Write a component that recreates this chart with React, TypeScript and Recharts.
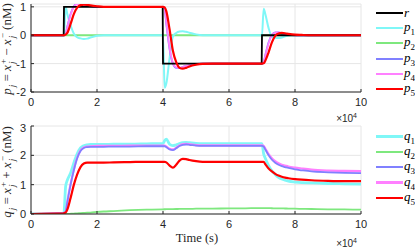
import React from 'react';
import { LineChart, Line, XAxis, YAxis, CartesianGrid } from 'recharts';

// time in units of 1e4 s
const times = [0, 0.99, 1.0, 1.05, 1.1, 1.2, 1.3, 1.4, 1.5, 1.6, 1.7, 1.8, 2.0, 2.2, 2.5, 3.0, 3.5, 3.99, 4.0, 4.05, 4.1, 4.2, 4.3, 4.4, 4.5, 4.6, 4.7, 4.8, 5.0, 5.2, 5.5, 6.0, 6.5, 6.99, 7.0, 7.05, 7.1, 7.2, 7.3, 7.4, 7.5, 7.6, 7.7, 7.8, 8.0, 8.2, 8.5, 9.0, 9.5, 10];

// top panel: p_j
const rRef = [0, 0, 1, 1, 1, 1, 1, 1, 1, 1, 1, 1, 1, 1, 1, 1, 1, 1, -1, -1, -1, -1, -1, -1, -1, -1, -1, -1, -1, -1, -1, -1, -1, -1, 0, 0, 0, 0, 0, 0, 0, 0, 0, 0, 0, 0, 0, 0, 0, 0];
const p1 = [0, 0, 0, 1.0, 0.75, 0.35, 0.05, -0.07, -0.11, -0.13, -0.12, -0.08, -0.02, 0, 0, 0, 0, 0, 0, -1.85, -1.7, -0.8, -0.05, 0.08, 0.13, 0.14, 0.12, 0.09, 0.03, 0, 0, 0, 0, 0, 0, 0.93, 0.75, 0.25, -0.05, -0.09, -0.1, -0.08, -0.04, -0.01, 0, 0, 0, 0, 0, 0];
const p2 = [0, 0, 0, 0, 0, 0, 0, 0, 0, 0, 0, 0, 0, 0, 0, 0, 0, 0, 0, 0, 0, 0, 0, 0, 0, 0, 0, 0, 0, 0, 0, 0, 0, 0, 0, 0, 0, 0, 0, 0, 0, 0, 0, 0, 0, 0, 0, 0, 0, 0];
const p3 = [0, 0, 0, 0.05, 0.3, 0.75, 1.02, 1.12, 1.12, 1.08, 1.05, 1.03, 1.0, 1.0, 1.0, 1.0, 1.0, 1.0, 1.0, 0.9, 0.4, -0.5, -1.0, -1.15, -1.15, -1.12, -1.08, -1.05, -1.02, -1.0, -1.0, -1.0, -1.0, -1.0, -1.0, -0.95, -0.7, -0.25, 0.02, 0.1, 0.1, 0.07, 0.04, 0.02, 0, 0, 0, 0, 0, 0];
const p4 = [0, 0, 0, 0.04, 0.28, 0.72, 1.0, 1.1, 1.11, 1.08, 1.05, 1.03, 1.0, 1.0, 1.0, 1.0, 1.0, 1.0, 1.0, 0.92, 0.45, -0.45, -0.98, -1.13, -1.14, -1.12, -1.08, -1.05, -1.02, -1.0, -1.0, -1.0, -1.0, -1.0, -1.0, -0.96, -0.72, -0.28, 0.0, 0.09, 0.1, 0.07, 0.04, 0.02, 0, 0, 0, 0, 0, 0];
const p5 = [0, 0, 0, 0.02, 0.08, 0.4, 0.75, 0.97, 1.06, 1.08, 1.07, 1.05, 1.02, 1.0, 1.0, 1.0, 1.0, 1.0, 1.0, 0.98, 0.85, 0.2, -0.55, -0.95, -1.15, -1.18, -1.15, -1.1, -1.04, -1.01, -1.0, -1.0, -1.0, -1.0, -1.0, -0.99, -0.9, -0.6, -0.25, -0.02, 0.06, 0.08, 0.07, 0.05, 0.02, 0.01, 0, 0, 0, 0];

// bottom panel: q_j
const q1 = [0, 0.03, 0.05, 0.95, 1.15, 1.4, 1.75, 2.05, 2.25, 2.33, 2.36, 2.37, 2.37, 2.37, 2.38, 2.38, 2.39, 2.4, 2.4, 2.5, 2.55, 2.38, 2.33, 2.36, 2.4, 2.43, 2.44, 2.43, 2.41, 2.4, 2.4, 2.4, 2.4, 2.4, 2.4, 2.05, 1.9, 1.65, 1.47, 1.35, 1.25, 1.19, 1.15, 1.12, 1.09, 1.07, 1.06, 1.04, 1.03, 1.02];
const q2 = [0, 0, 0, 0, 0.002, 0.008, 0.015, 0.022, 0.03, 0.037, 0.044, 0.05, 0.07, 0.085, 0.1, 0.13, 0.15, 0.16, 0.16, 0.162, 0.164, 0.166, 0.168, 0.17, 0.172, 0.174, 0.175, 0.176, 0.18, 0.182, 0.185, 0.19, 0.195, 0.2, 0.2, 0.2, 0.2, 0.198, 0.196, 0.194, 0.192, 0.19, 0.188, 0.186, 0.18, 0.176, 0.17, 0.16, 0.155, 0.15];
const q3 = [0, 0.03, 0.04, 0.08, 0.4, 1.0, 1.5, 1.9, 2.15, 2.25, 2.28, 2.29, 2.29, 2.29, 2.3, 2.3, 2.31, 2.31, 2.31, 2.31, 2.28, 2.2, 2.18, 2.24, 2.32, 2.36, 2.37, 2.36, 2.33, 2.32, 2.32, 2.32, 2.32, 2.32, 2.32, 2.3, 2.2, 2.0, 1.85, 1.75, 1.68, 1.63, 1.6, 1.57, 1.52, 1.49, 1.45, 1.42, 1.4, 1.39];
const q4 = [0, 0.03, 0.04, 0.08, 0.42, 1.02, 1.52, 1.92, 2.17, 2.27, 2.3, 2.31, 2.32, 2.32, 2.32, 2.33, 2.33, 2.33, 2.33, 2.33, 2.3, 2.22, 2.2, 2.26, 2.34, 2.38, 2.39, 2.38, 2.35, 2.34, 2.34, 2.34, 2.34, 2.34, 2.34, 2.32, 2.23, 2.04, 1.9, 1.8, 1.73, 1.68, 1.65, 1.62, 1.58, 1.55, 1.51, 1.48, 1.47, 1.46];
const q5 = [0, 0.02, 0.03, 0.05, 0.15, 0.55, 1.0, 1.35, 1.6, 1.72, 1.75, 1.75, 1.75, 1.75, 1.76, 1.77, 1.78, 1.78, 1.78, 1.78, 1.76, 1.65, 1.58, 1.68, 1.82, 1.88, 1.87, 1.84, 1.8, 1.78, 1.78, 1.78, 1.78, 1.78, 1.78, 1.78, 1.7, 1.55, 1.45, 1.37, 1.31, 1.27, 1.24, 1.22, 1.19, 1.17, 1.15, 1.13, 1.12, 1.12];

const xTicks = [0, 2, 4, 6, 8, 10];
const topYTicks = [-2, -1, 0, 1];
const bottomYTicks = [0, 1, 2, 3];

const colors = {
  r: '#000000',
  c1: '#7ff7f7',
  c2: '#7ee87e',
  c3: '#8080ff',
  c4: '#ff80ff',
  c5: '#ff0000',
};

const topData = times.map((t, i) => ({ t, r: rRef[i], p1: p1[i], p2: p2[i], p3: p3[i], p4: p4[i], p5: p5[i] }));
const bottomData = times.map((t, i) => ({ t, q1: q1[i], q2: q2[i], q3: q3[i], q4: q4[i], q5: q5[i] }));

const tickStyle = { fontSize: 11, fill: '#262626', fontFamily: 'Liberation Sans, Arial, sans-serif' };
const serif = '"Liberation Serif", "DejaVu Serif", serif';

const Sym = ({ base, sub, sup }: { base: string; sub?: string; sup?: string }) => (
  <span style={{ fontStyle: 'italic' }}>
    {base}
    <span style={{ display: 'inline-flex', flexDirection: 'column', verticalAlign: 'middle', fontSize: '0.7em', lineHeight: 0.95, marginLeft: 1 }}>
      <span style={{ fontStyle: 'normal' }}>{sup || '\u00a0'}</span>
      <span>{sub || ''}</span>
    </span>
  </span>
);

function LegendBox({ items, top }: { items: { name: string; sub?: string; color: string; w: number }[]; top: number }) {
  return (
    <div style={{ position: 'absolute', left: 376, top, fontFamily: serif, fontSize: 13, whiteSpace: 'nowrap' }}>
      {items.map((it) => (
        <div key={it.name + (it.sub || '')} style={{ display: 'flex', alignItems: 'center', height: 15.3 }}>
          <div style={{ width: 27, height: it.w, background: it.color }} />
          <span style={{ fontStyle: 'italic', marginLeft: 1 }}>
            {it.name}
            {it.sub && <sub style={{ fontStyle: 'normal', fontSize: 9 }}>{it.sub}</sub>}
          </span>
        </div>
      ))}
    </div>
  );
}

function Panel({ data, keys, yDomain, yTicks, top }: any) {
  return (
    <div style={{ position: 'absolute', left: 0, top }}>
      <LineChart width={415} height={112} data={data} margin={{ top: 4, right: 54, bottom: 0, left: 6 }}>
        <CartesianGrid stroke="#e6e6e6" strokeWidth={1} />
        <XAxis dataKey="t" type="number" domain={[0, 10]} ticks={xTicks} height={20}
          tick={tickStyle} tickSize={-3} tickMargin={9} axisLine={{ stroke: '#262626' }} tickLine={{ stroke: '#262626' }} />
        <XAxis xAxisId="top" dataKey="t" type="number" orientation="top" domain={[0, 10]} ticks={xTicks} height={0}
          tick={false} tickSize={-3} axisLine={{ stroke: '#262626' }} tickLine={{ stroke: '#262626' }} />
        <YAxis type="number" domain={yDomain} ticks={yTicks} width={25} allowDataOverflow
          tick={tickStyle} tickSize={-3} tickMargin={8} axisLine={{ stroke: '#262626' }} tickLine={{ stroke: '#262626' }} />
        <YAxis yAxisId="right" orientation="right" type="number" domain={yDomain} ticks={yTicks} width={0}
          tick={false} tickSize={-3} axisLine={{ stroke: '#262626' }} tickLine={{ stroke: '#262626' }} />
        {keys.map((k: any) => (
          <Line key={k.key} dataKey={k.key} type={k.step ? 'linear' : 'monotone'} stroke={k.color}
            strokeWidth={k.w} dot={false} isAnimationActive={false} />
        ))}
      </LineChart>
    </div>
  );
}

const topKeys = [
  { key: 'p2', color: colors.c2, w: 1.8 },
  { key: 'p1', color: colors.c1, w: 2 },
  { key: 'p3', color: colors.c3, w: 1.8 },
  { key: 'p4', color: colors.c4, w: 1.8 },
  { key: 'r', color: colors.r, w: 1.8, step: true },
  { key: 'p5', color: colors.c5, w: 2.2 },
];
const bottomKeys = [
  { key: 'q2', color: colors.c2, w: 1.8 },
  { key: 'q1', color: colors.c1, w: 2.8 },
  { key: 'q4', color: colors.c4, w: 2.2 },
  { key: 'q3', color: colors.c3, w: 1.8 },
  { key: 'q5', color: colors.c5, w: 2.2 },
];

const titleStyle: React.CSSProperties = {
  position: 'absolute', left: 8, transform: 'translate(-50%, -50%) rotate(-90deg)',
  whiteSpace: 'nowrap', fontFamily: serif, fontSize: 13, color: '#262626',
};

export default function App() {
  return (
    <div style={{ position: 'absolute', left: 0, top: 0, width: 415, height: 249, background: '#fff', overflow: 'hidden' }}>
      <Panel data={topData} keys={topKeys} yDomain={[-2, 1.1]} yTicks={topYTicks} top={0} />
      <Panel data={bottomData} keys={bottomKeys} yDomain={[0, 3]} yTicks={bottomYTicks} top={122} />

      <LegendBox top={5} items={[
        { name: 'r', color: colors.r, w: 2 },
        { name: 'p', sub: '1', color: colors.c1, w: 2.5 },
        { name: 'p', sub: '2', color: colors.c2, w: 2 },
        { name: 'p', sub: '3', color: colors.c3, w: 2 },
        { name: 'p', sub: '4', color: colors.c4, w: 2 },
        { name: 'p', sub: '5', color: colors.c5, w: 2.2 },
      ]} />
      <LegendBox top={129} items={[
        { name: 'q', sub: '1', color: colors.c1, w: 2.8 },
        { name: 'q', sub: '2', color: colors.c2, w: 2 },
        { name: 'q', sub: '3', color: colors.c3, w: 2 },
        { name: 'q', sub: '4', color: colors.c4, w: 2.2 },
        { name: 'q', sub: '5', color: colors.c5, w: 2.2 },
      ]} />

      {/* y-axis titles */}
      <div style={{ ...titleStyle, top: 49 }}>
        <Sym base="p" sub="j" /> = <Sym base="x" sub="j" sup="+" /> − <Sym base="x" sub="j" sup="−" /> (nM)
      </div>
      <div style={{ ...titleStyle, top: 172 }}>
        <Sym base="q" sub="j" /> = <Sym base="x" sub="j" sup="+" /> + <Sym base="x" sub="j" sup="−" /> (nM)
      </div>

      {/* x-axis title and exponents */}
      <div style={{ position: 'absolute', left: 197, top: 238, transform: 'translate(-50%, -50%)', fontFamily: serif, fontSize: 12.5, whiteSpace: 'nowrap', color: '#262626' }}>Time (s)</div>
      <div style={{ position: 'absolute', right: 58, top: 112, fontFamily: 'Liberation Sans, sans-serif', fontSize: 10, color: '#262626' }}>×10<sup style={{ fontSize: 7 }}>4</sup></div>
      <div style={{ position: 'absolute', right: 58, top: 237, fontFamily: 'Liberation Sans, sans-serif', fontSize: 10, color: '#262626' }}>×10<sup style={{ fontSize: 7 }}>4</sup></div>
    </div>
  );
}
